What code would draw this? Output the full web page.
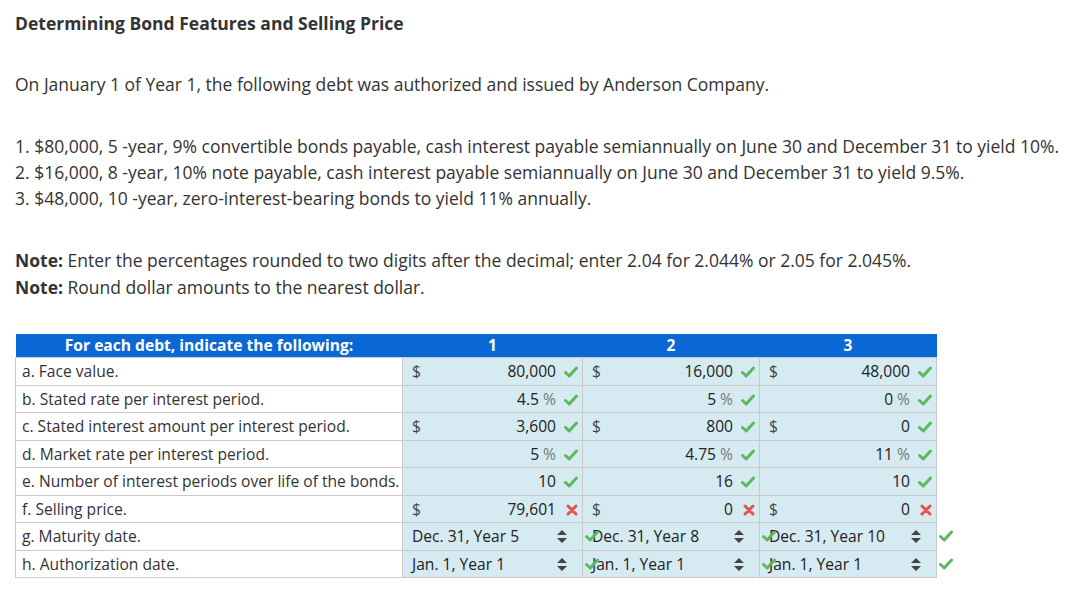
<!DOCTYPE html>
<html>
<head>
<meta charset="utf-8">
<script src="https://cdn.jsdelivr.net/npm/chart.js@4"></script>
<style>
  body { margin: 0; background: #fff; font-family: "Open Sans", sans-serif; color: #333; }
  .line { position: absolute; left: 15px; white-space: nowrap; font-size: 17.5px; line-height: 26px; }
  .title { font-weight: bold; }
  table { position: absolute; left: 15px; top: 334px; border-collapse: collapse; table-layout: fixed; font-size: 15.6px; }
  th { background: #0a68d4; color: #fff; font-weight: bold; height: 23px; padding: 0; border: 0; line-height: 23px; }
  td { height: 26.5px; padding: 0; border: 1px solid #c9c9c9; position: relative; line-height: 26px; }
  td.lbl { background: #fff; padding-left: 6px; white-space: nowrap; }
  td.val { background: #d6eaf1; color: #222; }
  .cur { position: absolute; left: 9px; top: 0; color: #444; }
  .num { position: absolute; right: 26px; top: 0; }
  .pct { color: #777; }
  .sel { position: absolute; left: 9px; top: 0; }
  .arr { position: absolute; right: 15px; top: 7px; display: block; line-height: 0; }
  .ico { position: absolute; top: 8px; display: block; line-height: 0; }
  svg { display: block; }
</style>
</head>
<body>
<div id="text"></div>
<table id="tbl"></table>
<script>
// Textos del enunciado
const titleText = "Determining Bond Features and Selling Price";
const introText = "On January 1 of Year 1, the following debt was authorized and issued by Anderson Company.";
const debtLines = [
  "1. $80,000, 5 -year, 9% convertible bonds payable, cash interest payable semiannually on June 30 and December 31 to yield 10%.",
  "2. $16,000, 8 -year, 10% note payable, cash interest payable semiannually on June 30 and December 31 to yield 9.5%.",
  "3. $48,000, 10 -year, zero-interest-bearing bonds to yield 11% annually."
];
const notes = [
  ["Note:", " Enter the percentages rounded to two digits after the decimal; enter 2.04 for 2.044% or 2.05 for 2.045%."],
  ["Note:", " Round dollar amounts to the nearest dollar."]
];

// Datos de la tabla
const headerLabels = ["For each debt, indicate the following:", "1", "2", "3"];
const rowLabels = [
  "a. Face value.",
  "b. Stated rate per interest period.",
  "c. Stated interest amount per interest period.",
  "d. Market rate per interest period.",
  "e. Number of interest periods over life of the bonds.",
  "f. Selling price.",
  "g. Maturity date.",
  "h. Authorization date."
];
// tipo de cada fila: $ = dinero, % = porcentaje, n = número, s = selector
const rowKinds = ["$", "%", "$", "%", "n", "$", "s", "s"];
const debt1 = ["80,000", "4.5", "3,600", "5", "10", "79,601", "Dec. 31, Year 5", "Jan. 1, Year 1"];
const debt2 = ["16,000", "5", "800", "4.75", "16", "0", "Dec. 31, Year 8", "Jan. 1, Year 1"];
const debt3 = ["48,000", "0", "0", "11", "10", "0", "Dec. 31, Year 10", "Jan. 1, Year 1"];
const status1 = ["ok", "ok", "ok", "ok", "ok", "bad", "ok", "ok"];
const status2 = ["ok", "ok", "ok", "ok", "ok", "bad", "ok", "ok"];
const status3 = ["ok", "ok", "ok", "ok", "ok", "bad", "ok", "ok"];
const colWidths = [387, 180, 177, 177];

const CHECK = '<svg width="14" height="12" viewBox="0 0 14 12"><path d="M1.5 6.5 L5.2 10 L12.5 2" fill="none" stroke="#5cb85c" stroke-width="3" stroke-linecap="round" stroke-linejoin="round"/></svg>';
const CROSS = '<svg width="12" height="12" viewBox="0 0 12 12"><path d="M2 2 L10 10 M10 2 L2 10" fill="none" stroke="#e0534f" stroke-width="3" stroke-linecap="round"/></svg>';
const ARROWS = '<svg width="10" height="13" viewBox="0 0 10 13"><path d="M5 0 L10 5 L0 5 Z M0 8 L10 8 L5 13 Z" fill="#444"/></svg>';

function buildText() {
  const t = document.getElementById("text");
  let html = '<div class="line title" style="top:10px">' + titleText + '</div>';
  html += '<div class="line" style="top:71px">' + introText + '</div>';
  debtLines.forEach(function (l, i) {
    html += '<div class="line" style="top:' + (133 + i * 26) + 'px">' + l + '</div>';
  });
  notes.forEach(function (n, i) {
    html += '<div class="line" style="top:' + (247 + i * 27) + 'px"><b>' + n[0] + '</b>' + n[1] + '</div>';
  });
  t.innerHTML = html;
}

function cellHtml(kind, value, status) {
  if (kind === "s") {
    let h = '<span class="sel">' + value + '</span><span class="arr">' + ARROWS + '</span>';
    // la marca queda a la derecha del selector, encima de la siguiente celda
    h += '<span class="ico" style="right:-17px;top:7px;z-index:2">' + (status === "ok" ? CHECK : CROSS) + '</span>';
    return h;
  }
  let h = "";
  if (kind === "$") h += '<span class="cur">$</span>';
  let v = value;
  if (kind === "%") v = value + ' <span class="pct">%</span>';
  h += '<span class="num">' + v + '</span>';
  h += '<span class="ico" style="right:4px">' + (status === "ok" ? CHECK : CROSS) + '</span>';
  return h;
}

function buildTable() {
  const tbl = document.getElementById("tbl");
  let html = "<colgroup>";
  colWidths.forEach(function (w) { html += '<col style="width:' + w + 'px">'; });
  html += "</colgroup><tr>";
  headerLabels.forEach(function (h) { html += "<th>" + h + "</th>"; });
  html += "</tr>";
  const cols = [debt1, debt2, debt3];
  const stats = [status1, status2, status3];
  rowLabels.forEach(function (label, r) {
    html += '<tr><td class="lbl">' + label + "</td>";
    cols.forEach(function (c, ci) {
      html += '<td class="val">' + cellHtml(rowKinds[r], c[r], stats[ci][r]) + "</td>";
    });
    html += "</tr>";
  });
  tbl.innerHTML = html;
}

buildText();
buildTable();
</script>
</body>
</html>
